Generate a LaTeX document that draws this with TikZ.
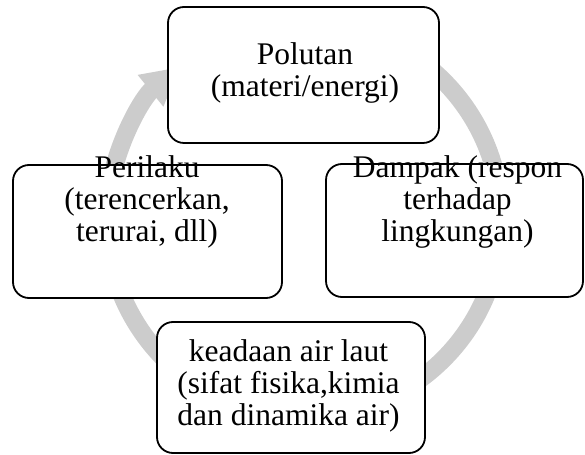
\documentclass[tikz,border=0pt]{standalone}
\usepackage{fontspec}
\setmainfont{Liberation Serif}
\usetikzlibrary{arrows.meta}
\definecolor{ringcol}{RGB}{204,204,204}
\tikzset{
  box/.style={draw,rectangle,rounded corners=16bp,line width=1.8bp,fill=white,inner sep=0pt},
  boxtext/.style={align=center,anchor=base,inner sep=0pt,font=\fontsize{31.5bp}{32bp}\selectfont},
}
\begin{document}
\begin{tikzpicture}[>=Triangle,line join=round]
\useasboundingbox (0bp,0bp) rectangle (585bp,455bp);
%%
\begin{scope}
  \coordinate (c) at (304bp,235bp);
  \draw [ringcol,line width=18bp,-{Triangle[width=38bp,length=38bp]}]
    (c) ++(80:197bp) arc [start angle=80,end angle=-231,radius=197bp];
\end{scope}
  \node (pol) at (303.5bp,380bp) [box,minimum width=271bp,minimum height=136bp] {};
  \node (per) at (147.5bp,223.5bp) [box,minimum width=269bp,minimum height=133bp] {};
  \node (dam) at (454.5bp,224.5bp) [box,minimum width=257bp,minimum height=133bp] {};
  \node (kea) at (291bp,67.5bp) [box,minimum width=268bp,minimum height=131bp] {};
  % base of a multi-line node is its last line
  \node (pol text) at (305bp,358bp) [boxtext] {Polutan\\(materi/energi)};
  \node (per text) at (147bp,213bp) [boxtext] {Perilaku\\(terencerkan,\\terurai, dll)};
  \node (dam text) at (457.5bp,213bp) [boxtext] {Dampak (respon\\terhadap\\lingkungan)};
  \node (kea text) at (288.5bp,30bp) [boxtext] {keadaan air laut\\(sifat fisika,kimia\\dan dinamika air)};
%
\end{tikzpicture}
\end{document}
